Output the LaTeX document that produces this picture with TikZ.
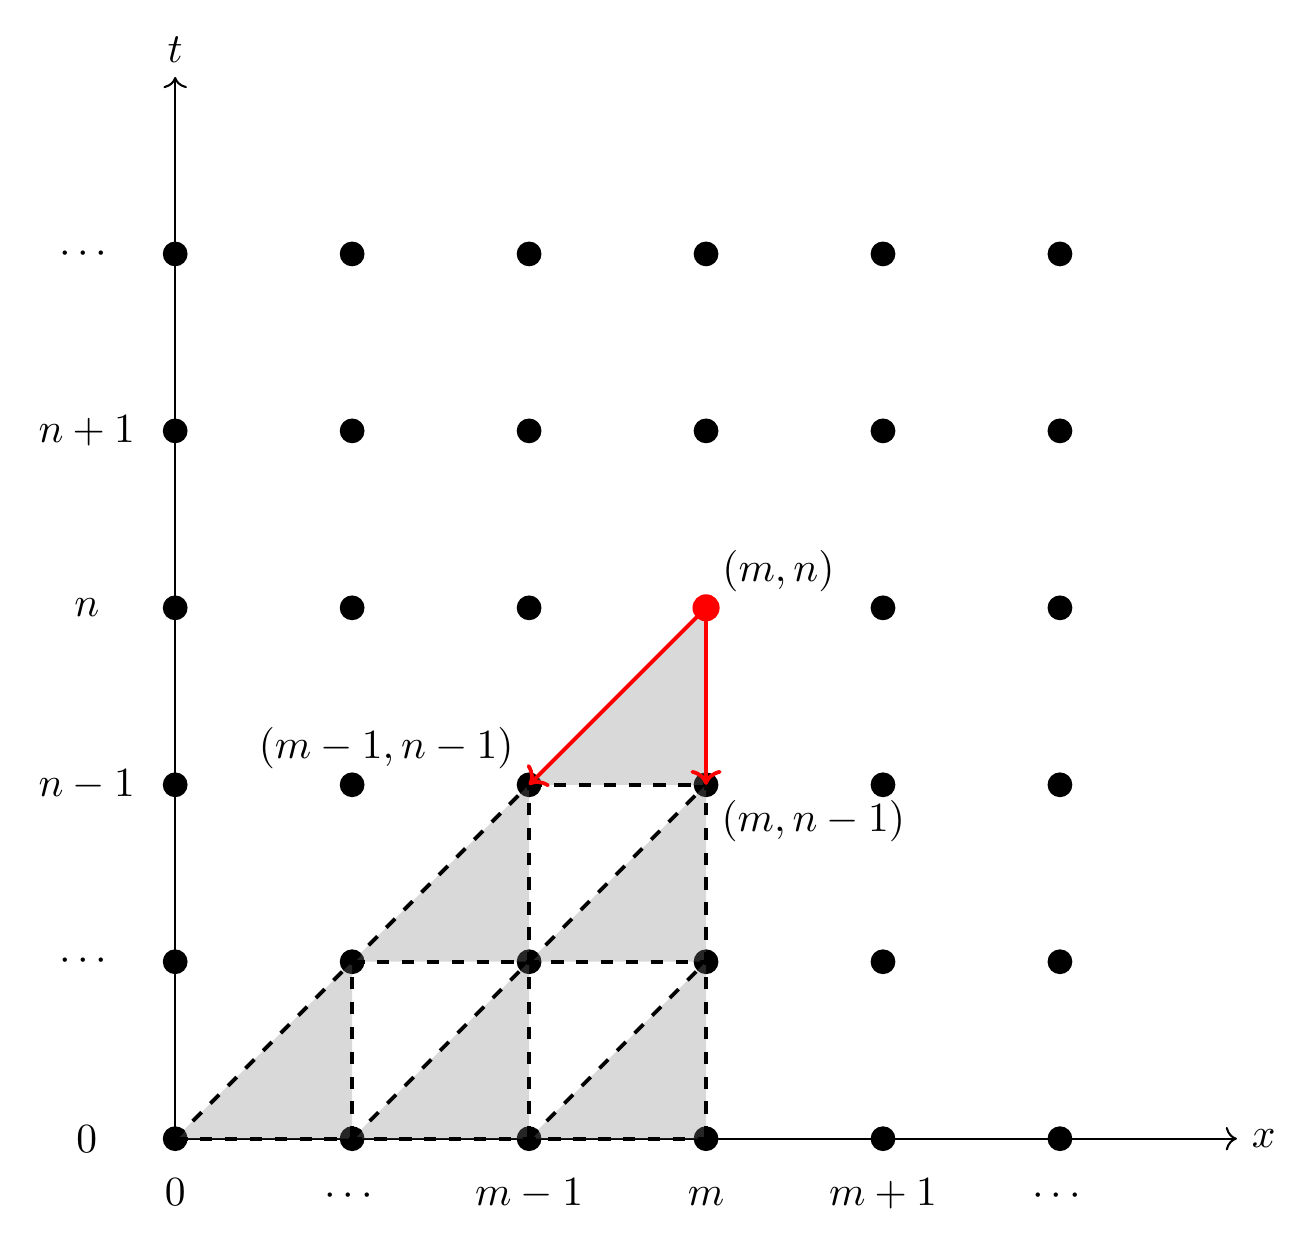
\documentclass[tikz,border=0pt]{standalone}
\usepackage{amsmath}
\usepackage{tikz}
\usetikzlibrary{arrows.meta, positioning, calc}
\tikzset{
  dot/.style={circle, fill=black, inner sep=0pt, minimum size=0.21cm},
  rdot/.style={dot, fill=red, minimum size=0.23cm},
  cellfill/.style={fill=gray, fill opacity=0.3},
  gline/.style={draw=black, dashed, line width=0.9pt},
  axis/.style={->, line width=0.5pt},
  rarr/.style={->, draw=red, line width=0.9pt},
  tick/.style={inner sep=0pt},
  plbl/.style={inner sep=1.3pt},
}

\begin{document}
\begin{tikzpicture}[x=1.5cm, y=1.5cm]
  \useasboundingbox (-0.99,-0.605) rectangle (6.43,6.435);
  % ---------------- axes ----------------
  \coordinate (org) at (0,0);
  \coordinate (xend) at (6,0);
  \coordinate (tend) at (0,6);
  \draw[axis] (org) -- (xend) node[right] (xl) {$x$};
  \draw[axis] (org) -- (tend) node[above] (tl) {$t$};

  % ---------------- grid points ----------------
  \foreach \i in {0,...,5}
    \foreach \j in {0,...,5}
      \node[dot] (p\i\j) at (\i,\j) {};
  \foreach \i/\t in {0/0, 1/\cdots, 2/m-1, 3/m, 4/m+1, 5/\cdots}
    \node[tick, anchor=base] (xt\i) at (\i,-0.38) {$\t$};
  \foreach \j/\t in {0/0, 1/\cdots, 2/n-1, 3/n, 4/n+1, 5/\cdots}
    \node[tick] (yt\j) at (-0.5,\j) {$\t$};

  % ---------------- shaded cells ----------------
  \foreach \i/\j in {0/0, 1/0, 2/0, 1/1, 2/1, 2/2}
    \fill[cellfill] (\i,\j) -- ++(1,0) -- ++(0,1) -- cycle;
  \foreach \a/\b in {p00/p22, p10/p32, p20/p31, p00/p30, p11/p31, p22/p32, p10/p11, p20/p22, p30/p32}
    \draw[gline] (\a.center) -- (\b.center);

  % ---------------- stencil ----------------
  \node[rdot] (mn) at (p33) {};
  \draw[rarr] (mn.center) -- (p22.center);
  \draw[rarr] (mn.center) -- (p32.center);
  \node[plbl, above right=0pt of mn] (lmn) {$(m,n)$};
  \node[plbl, above left=0pt of p22] (lmm) {$(m-1,n-1)$};
  \node[plbl, below right=0pt of p32] (lmb) {$(m,n-1)$};
\end{tikzpicture}
\end{document}
